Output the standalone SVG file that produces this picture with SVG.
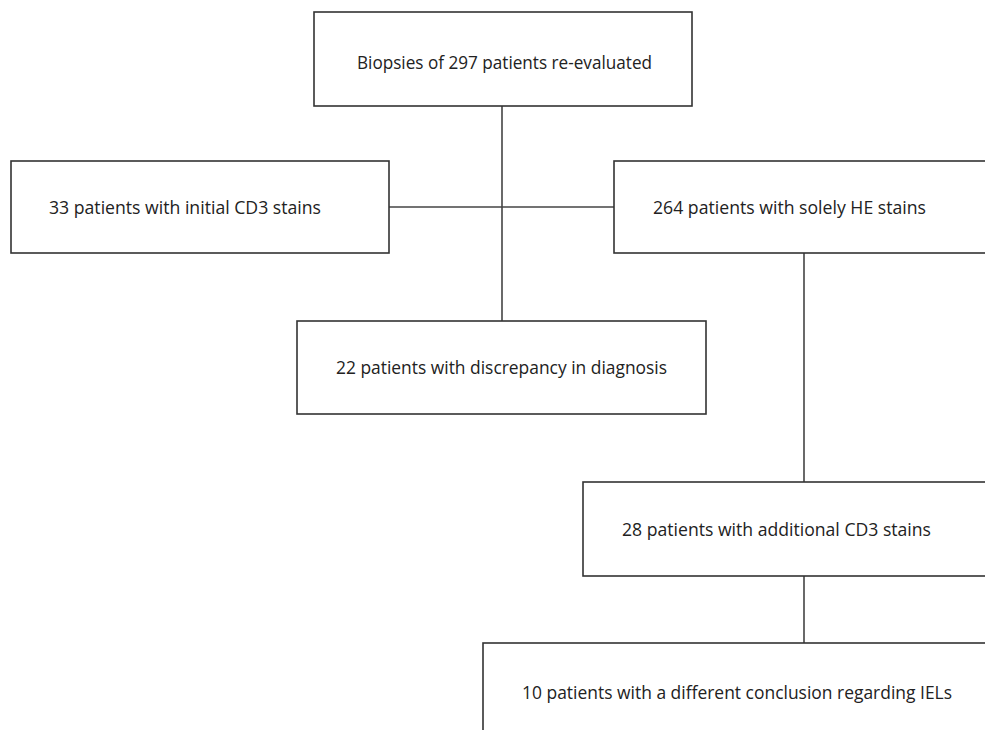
<svg xmlns="http://www.w3.org/2000/svg" width="985" height="730" viewBox="0 0 985 730">
<style>
.box{fill:#fff;stroke:#333;stroke-width:1.6}
.ln{stroke:#444;stroke-width:1.6;fill:none}
.t{font-family:"Open Sans","Liberation Sans",sans-serif;font-size:18px;fill:#222}
</style>
<rect width="985" height="730" fill="#fff"/>
<g id="connectors">
<line class="ln" x1="502" y1="106" x2="502" y2="321"/>
<line class="ln" x1="389" y1="207" x2="614" y2="207"/>
<line class="ln" x1="804" y1="253" x2="804" y2="482"/>
<line class="ln" x1="804" y1="576" x2="804" y2="643"/>
</g>
<g id="n1">
<rect class="box" x="314" y="12" width="378" height="94"/>
<text class="t" x="357" y="69" textLength="295" lengthAdjust="spacingAndGlyphs">Biopsies of 297 patients re-evaluated</text>
</g>
<g id="n2">
<rect class="box" x="11" y="161" width="378" height="92"/>
<text class="t" x="49" y="214" textLength="272" lengthAdjust="spacingAndGlyphs">33 patients with initial CD3 stains</text>
</g>
<g id="n3">
<rect class="box" x="614" y="161" width="380" height="92"/>
<text class="t" x="653" y="214" textLength="273" lengthAdjust="spacingAndGlyphs">264 patients with solely HE stains</text>
</g>
<g id="n4">
<rect class="box" x="297" y="321" width="409" height="93"/>
<text class="t" x="336" y="374" textLength="331" lengthAdjust="spacingAndGlyphs">22 patients with discrepancy in diagnosis</text>
</g>
<g id="n5">
<rect class="box" x="583" y="482" width="411" height="94"/>
<text class="t" x="622" y="536" textLength="309" lengthAdjust="spacingAndGlyphs">28 patients with additional CD3 stains</text>
</g>
<g id="n6">
<rect class="box" x="483" y="643" width="511" height="100"/>
<text class="t" x="522" y="699" textLength="430" lengthAdjust="spacingAndGlyphs">10 patients with a different conclusion regarding IELs</text>
</g>
</svg>
